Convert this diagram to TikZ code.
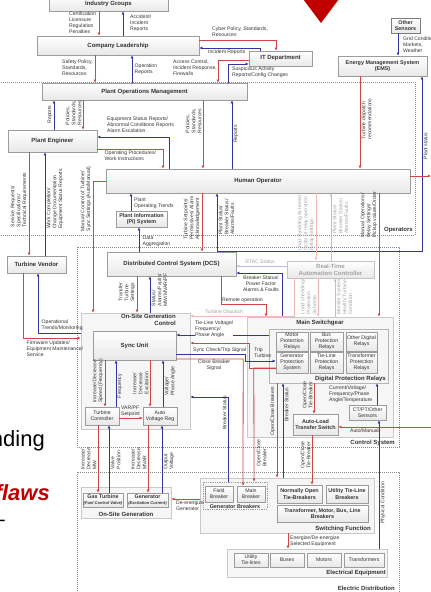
\documentclass[tikz,border=0pt]{standalone}
\usepackage{fontspec}
\setmainfont{Liberation Sans}
\usepackage{tikz}
\usetikzlibrary{arrows.meta}
\definecolor{linered}{HTML}{D04545}
\definecolor{lineblue}{HTML}{3434A4}
\definecolor{palered}{HTML}{F2B8B8}
\definecolor{paleblue}{HTML}{BCBCE8}
\definecolor{edge}{HTML}{9C9C9C}
\definecolor{shade}{HTML}{E8E8E8}
\definecolor{ink}{HTML}{333333}
\definecolor{faint}{HTML}{A3A3A3}
\definecolor{slidered}{HTML}{C00000}
\definecolor{zone}{HTML}{8C8C8C}
\definecolor{panel}{HTML}{F6F6F6}
\newcommand{\lblsize}{\fontsize{5.1}{5.9}\selectfont}
\newcommand{\boxsize}{\fontsize{6}{6.8}\selectfont\bfseries}
\newcommand{\subsize}{\fontsize{5.4}{6.2}\selectfont\bfseries}
\newcommand{\minorsize}{\fontsize{5.2}{6}\selectfont}
\newcommand{\tinysize}{\fontsize{4.1}{5}\selectfont\itshape}

\begin{document}
\begin{tikzpicture}[
  x=1pt, y=-1pt,
  box/.style={draw=edge,top color=white,bottom color=shade,text=ink,font=\boxsize,align=center,inner sep=0pt},
  subbox/.style={box,font=\subsize},
  minor/.style={box,font=\minorsize},
  panel/.style={draw=edge!55,fill=panel,inner sep=0pt},
  zonebox/.style={draw=zone,dash pattern=on 0.8pt off 1.2pt},
  title/.style={font=\boxsize,text=ink,inner sep=0pt},
  rd/.style={draw=linered,line width=0.8pt,-{Latex[length=3.2pt,width=3pt]}},
  bl/.style={draw=lineblue,line width=0.8pt,-{Latex[length=3.2pt,width=3pt]}},
  rdf/.style={rd,draw=palered},
  blf/.style={bl,draw=paleblue},
  lbl/.style={font=\lblsize,text=ink,align=left,inner sep=0pt},
  lblv/.style={lbl,rotate=90},
  dim/.style={text=faint}
]
\useasboundingbox (0,0) rectangle (431,592);
\clip (0,0) rectangle (431,592);

% slide behind the diagram
\node[font=\fontsize{22}{24}\selectfont,anchor=base east,inner sep=0pt] (bgA) at (45,446) {nding};
\node[font=\fontsize{22}{24}\selectfont\bfseries\itshape,text=slidered,anchor=base east,inner sep=0pt] (bgB) at (50,500) {flaws};
\node[font=\fontsize{22}{24}\selectfont,anchor=base east,inner sep=0pt] (bgC) at (5,526) {--};
\fill[slidered] (303,-1) -- (339,-1) -- (321,23) -- cycle;

% zones
\draw[zonebox] (-5,82) -- (415,82) -- (415,235) -- (-5,235);
\draw[zonebox] (77,247) rectangle (399,447);
\draw[zonebox] (77,472) rectangle (399,600);
\node[title,anchor=south east] (opsT) at (413,233) {Operators};
\node[title,anchor=south east] (csT) at (395,446) {Control System};
\node[title,anchor=south east] (edT) at (395,591) {Electric Distribution};

% panels
\node[panel,minimum width=109pt,minimum height=116pt] (osgc) at (135.5,371) {};
\node[title,align=right,anchor=north east] (osgcT) at (176,314) {On-Site Generation\\Control};
\node[panel,minimum width=146pt,minimum height=120pt] (msw) at (320,377) {};
\node[title,anchor=north] (mswT) at (320,319.5) {Main Switchgear};
\node[panel,draw=edge!75,minimum width=119pt,minimum height=54pt] (dpr) at (328.5,356) {};
\node[title,anchor=south east] (dprT) at (386,382) {Digital Protection Relays};
\node[panel,minimum width=90pt,minimum height=31pt] (osg) at (126,502.5) {};
\node[title,anchor=south] (osgT) at (126,517) {On-Site Generation};
\node[panel,minimum width=174pt,minimum height=55pt] (sf) at (287,505.5) {};
\node[title,anchor=south east] (sfT) at (371,532) {Switching Function};
\node[panel,draw=edge,dash pattern=on 0.8pt off 1pt,minimum width=64pt,minimum height=27pt] (gb) at (235,495.5) {};
\node[title,font=\subsize,anchor=south] (gbT) at (235,508.5) {Generator Breakers};
\node[panel,minimum width=160pt,minimum height=28pt] (ee) at (307,563) {};
\node[title,anchor=south east] (eeT) at (386,576) {Electrical Equipment};

% boxes
\node[box,minimum width=119pt,minimum height=15pt] (ind) at (108.5,3.5) {Industry Groups};
\node[box,minimum width=162pt,minimum height=19pt] (cl) at (118,45.5) {Company Leadership};
\node[box,minimum width=63pt,minimum height=15pt] (it) at (280.5,58.5) {IT Department};
\node[box,font=\subsize,minimum width=89pt,minimum height=20pt] (ems) at (382.5,66) {Energy Management System\\(EMS)};
\node[box,font=\subsize,draw=edge!80!black,minimum width=29pt,minimum height=15pt] (oth) at (405.5,25.5) {Other\\Sensors};
\node[box,minimum width=205pt,minimum height=17pt] (pom) at (144.5,91.5) {Plant Operations Management};
\node[box,minimum width=89pt,minimum height=22pt] (pe) at (52.5,141) {Plant Engineer};
\node[box,minimum width=304pt,minimum height=24pt] (ho) at (258,181) {Human Operator};
\node[box,font=\subsize,minimum width=51pt,minimum height=16pt] (pi) at (141.5,219) {Plant Information\\(PI) System};
\node[box,minimum width=59pt,minimum height=17pt] (tv) at (36.5,264.5) {Turbine Vendor};
\node[box,minimum width=129pt,minimum height=24pt] (dcs) at (171.5,264) {Distributed Control System (DCS)};
\node[box,draw=edge!60,text=faint,minimum width=87pt,minimum height=17pt] (rtac) at (330.5,269.5) {Real-Time\\Automation Controller};

\node[box,minimum width=83pt,minimum height=29pt] (sync) at (134.5,345.5) {Sync Unit};
\node[minor,minimum width=34pt,minimum height=18pt] (tc) at (102,416) {Turbine\\Controller};
\node[minor,minimum width=34pt,minimum height=18pt] (avr) at (160,416) {Auto\\Voltage Reg};

\node[minor,minimum width=32pt,minimum height=19pt] (mpr) at (292,341.5) {Motor\\Protection\\Relays};
\node[minor,minimum width=33pt,minimum height=19pt] (bpr) at (326.5,341.5) {Bus\\Protection\\Relays};
\node[minor,minimum width=31pt,minimum height=19pt] (odr) at (361.5,341.5) {Other Digital\\Relays};
\node[minor,minimum width=32pt,minimum height=21pt] (gps) at (292,362.5) {Generator\\Protection\\System};
\node[minor,minimum width=33pt,minimum height=21pt] (tlr) at (326.5,362.5) {Tie-Line\\Protection\\Relays};
\node[minor,minimum width=31pt,minimum height=21pt] (tpr) at (361.5,362.5) {Transformer\\Protection\\Relays};
\node[subbox,minimum width=45pt,minimum height=21pt] (alts) at (315.5,424.5) {Auto-Load\\Transfer Switch};
\node[minor,minimum width=37pt,minimum height=15pt] (ct) at (367.5,412.5) {CT/PT/Other\\Sensors};

\node[subbox,minimum width=40pt,minimum height=14pt] (gt) at (103,500) {Gas Turbine\\[-1pt]{\tinysize(Fuel Control Valve)}};
\node[subbox,minimum width=41pt,minimum height=14pt] (gen) at (147.5,500) {Generator\\[-1pt]{\tinysize(Excitation Current)}};
\node[minor,minimum width=28pt,minimum height=16pt] (fb) at (219,494) {Field\\Breaker};
\node[minor,minimum width=28pt,minimum height=16pt] (mb) at (251,494) {Main\\Breaker};
\node[subbox,minimum width=45pt,minimum height=18pt] (nob) at (299.5,494) {Normally Open\\Tie-Breakers};
\node[subbox,minimum width=42pt,minimum height=18pt] (utb) at (347,494) {Utility Tie-Line\\Breakers};
\node[subbox,minimum width=91pt,minimum height=17pt] (tmb) at (322.5,513.5) {Transformer, Motor, Bus, Line\\Breakers};
\node[minor,minimum width=34pt,minimum height=14pt] (utl) at (251,560) {Utility\\Tie-lines};
\node[minor,minimum width=34pt,minimum height=14pt] (bus) at (287,560) {Buses};
\node[minor,minimum width=34pt,minimum height=14pt] (mot) at (324,560) {Motors};
\node[minor,minimum width=40pt,minimum height=14pt] (trf) at (364,560) {Transformers};

\coordinate (hoOut) at (431,176);
\coordinate (amIn) at (431,427);

% management level
\draw[rd] (ind.south -| 99,0) -- (cl.north -| 99,0);
\node[lbl,anchor=north west] (l1) at (69,12) {Certification\\Licensure\\Regulation\\Penalties};
\draw[bl] (cl.north -| 123,0) -- (ind.south -| 123,0);
\node[lbl,anchor=north west] (l2) at (130,15) {Accident/\\Incident\\Reports};
\draw[rd] (cl.east |- 0,40) -| (it.north -| 276,0);
\node[lbl,anchor=north west] (l3) at (212,26.5) {Cyber Policy, Standards,\\Resources};
\draw[bl] (it.north -| 260,0) |- (cl.east |- 0,48);
\node[lbl,anchor=north west] (l4) at (208,49.5) {Incident Reports};
\draw[rd] (it.west |- 0,60) -| (pom.north -| 218,0);
\node[lbl,anchor=north west] (l5) at (173,60) {Access Control,\\Incident Response,\\Firewalls};
\draw[bl] (pom.north -| 228,0) |- (it.west |- 0,64);
\node[lbl,anchor=north west] (l6) at (232,67) {Suspicious Activity\\Reports/Config Changes};
\draw[rd] (cl.south -| 95,0) -- (pom.north -| 95,0);
\node[lbl,anchor=north west] (l7) at (62,60) {Safety Policy,\\Standards,\\Resources};
\draw[bl] (pom.north -| 132,0) -- (cl.south -| 132,0);
\node[lbl,anchor=north west] (l8) at (134.5,64) {Operation\\Reports};
\draw[bl] (oth.south -| 398,0) -- (ems.north -| 398,0);
\node[lbl,anchor=north west] (l9) at (403,37) {Grid Conditions,\\Markets,\\Weather};

% operators
\draw[bl] (pe.north -| 54,0) -- (pom.south -| 54,0);
\node[lblv,anchor=south] (l10) at (52.5,114.5) {Reports};
\draw[rd] (pom.south -| 83,0) -- (pe.north -| 83,0);
\node[lblv,anchor=south] (l11) at (81.5,113) {Policies,\\Standards,\\Resources};
\draw[bl] (ho.north -| 169,0) |- (pe.east |- 0,137);
\node[lbl,anchor=north west] (l12) at (107,117) {Equipment Status Reports/\\Abnormal Conditions Reports\\Alarm Escalation};
\draw[rd] (pe.east |- 0,149) -| (ho.north -| 163,0);
\node[lbl,anchor=north west] (l13) at (104.5,150.5) {Operating Procedures/\\Work Instructions};
\draw[rd] (pom.south -| 203,0) -- (ho.north -| 203,0);
\node[lblv,anchor=south] (l14) at (201.5,121) {Policies,\\Standards,\\Resources};
\draw[bl] (ho.north -| 232,0) -- (pom.south -| 232,0);
\node[lblv,anchor=north] (l15) at (233.5,134) {Reports};
\draw[rd] (ems.south -| 360,0) -- (ho.north -| 360,0);
\node[lblv,anchor=north] (l16) at (361.5,119) {Turbine dispatch\\recommendations};
\draw[bl] (dcs.north -| 217,0) -| (ems.south -| 422,0);
\node[lblv,anchor=north] (l17) at (423.5,146) {Plant status};
\draw[rd] (ho.east |- hoOut) -- (hoOut);
\draw[rd] (pe.south -| 29,0) -- (tv.north -| 29,0);
\node[lblv,anchor=south] (l18) at (27.5,200) {Service Requests/\\Specifications/\\Technical Requirements};
\draw[bl] (tv.north -| 45,0) -- (pe.south -| 45,0);
\node[lblv,anchor=north] (l19) at (46.5,199) {Work Completion/\\Change Documentation\\Equipment Status Reports};
\draw[rd] (ho.west |- 0,181) -| (osgc.north -| 93,0);
\node[lblv,anchor=south] (l20) at (91.5,199) {Manual Control of Turbine/\\Sync Settings (Auto/Manual)};
\draw[bl] (pi.north -| 131,0) -- (ho.south -| 131,0);
\node[lbl,anchor=north west] (l21) at (134,197.5) {Plant\\Operating Trends};
\draw[bl] (dcs.north -| 139,0) -- (pi.south -| 139,0);
\node[lbl,anchor=north west] (l22) at (142.5,236) {Data\\Aggregation};
\draw[rd] (ho.south -| 202,0) -- (dcs.north -| 202,0);
\node[lblv,anchor=south] (l23) at (200.5,218) {Turbine Setpoints/\\Permissives/ Alarm\\Acknowledgement};
\draw[bl] (dcs.north -| 217,0) -- (ho.south -| 217,0);
\node[lblv,anchor=north] (l24) at (218.5,217) {Plant Status/\\Breaker Status/\\Alarms/Faults};
\draw[rdf] (ho.south -| 316,0) -- (rtac.north -| 316,0);
\node[lblv,dim,anchor=south] (l25) at (314.5,223) {Load-shedding Scheme/\\Order of relay operation\\Relay settings};
\draw[blf] (rtac.north -| 331,0) -- (ho.south -| 331,0);
\node[lblv,dim,anchor=north] (l26) at (332.5,216) {Plant Status/\\Breaker Status/\\Alarms/Faults};
\draw[rd] (ho.south -| 379,0) -- (msw.north -| 379,0);
\node[lblv,anchor=south] (l27) at (377.5,215) {Manual Operations/\\Relay Settings/\\Pickup values/Order};

% control system
\draw[blf] (rtac.west |- 0,266) -- (dcs.east |- 0,266);
\node[lbl,dim,anchor=south] (l28) at (260,264) {RTAC Status};
\draw[bl] (msw.north -| 282,0) |- (dcs.east |- 0,273);
\node[lbl,align=center,anchor=north] (l29) at (261,275.5) {Breaker Status/\\Power Factor\\Alarms \& Faults};
\draw[rd] (dcs.south -| 221,0) -- ++(0,28) -| (msw.north -| 266,0);
\node[lbl,anchor=south west] (l30) at (222,302.5) {Remote operation};
\draw[rdf] (rtac.south -| 294,0) |- (osgc.east |- 0,316);
\node[lbl,dim,anchor=south] (l31) at (224,314.5) {Turbine Dispatch};
\draw[rdf] (rtac.south -| 318,0) -- (msw.north -| 318,0);
\node[lblv,dim,anchor=south] (l32) at (316.5,297) {Load-shedding/\\Protection\\Scheme};
\draw[blf] (msw.north -| 335,0) -- (rtac.south -| 335,0);
\node[lblv,dim,anchor=north] (l33) at (336.5,297) {Monitor System\\Health/ Turbine\\Condition};
\draw[rd] (dcs.south -| 137,0) -- (osgc.north -| 137,0);
\node[lblv,anchor=south] (l34) at (135.5,292) {Transfer\\Turbine\\Settings};
\draw[bl] (osgc.north -| 150,0) -- (dcs.south -| 150,0);
\node[lblv,anchor=north] (l35) at (151.5,290) {Status/\\Alarms/Faults/\\MW/MVAR/PF};
\draw[rd] (tv.south -| 23,0) |- (osgc.west |- 0,338);
\node[lbl,anchor=north west] (l36) at (26.5,341) {Firmware Updates/\\Equipment Maintenance/\\Service};
\draw[bl] (osgc.west |- 0,333) -| (tv.south -| 38,0);
\node[lbl,anchor=south west] (l37) at (41.5,331) {Operational\\Trends/Monitoring};

% generation control
\draw[rd] (sync.south -| 105,0) -- (tc.north -| 105,0);
\node[lblv,anchor=south] (l38) at (103.5,381) {Increase/Decrease\\Speed (Frequency)};
\draw[bl] (tc.north -| 116,0) -- (sync.south -| 116,0);
\node[lblv,anchor=north] (l39) at (117.5,386) {Frequency};
\draw[rd] (sync.south -| 150,0) -- (avr.north -| 150,0);
\node[lblv,anchor=south] (l40) at (148.5,383) {Increase/\\Decrease\\Excitation};
\draw[bl] (avr.north -| 163,0) -- (sync.south -| 163,0);
\node[lblv,anchor=north] (l41) at (164.5,381) {Voltage/\\Phase Angle};
\draw[rd] (tc.east |- 0,418) -- (avr.west |- 0,418);
\node[lbl,anchor=north west] (l42) at (121,406) {VAR/PF\\Setpoint};
\draw[rd] (tc.south -| 98,0) -- (gt.north -| 98,0);
\node[lblv,anchor=south] (l43) at (96.5,459) {Increase/\\Decrease\\MW};
\draw[bl] (gt.north -| 109,0) -- (tc.south -| 109,0);
\node[lblv,anchor=north] (l44) at (110.5,460) {Valve\\Position};
\draw[rd] (avr.south -| 148,0) -- (gen.north -| 148,0);
\node[lblv,anchor=south] (l45) at (146.5,459) {Increase/\\Decrease\\MVAR};
\draw[bl] (gen.north -| 162,0) -- (avr.south -| 162,0);
\node[lblv,anchor=north] (l46) at (163.5,461) {Output\\Voltage};

% sync unit and switchgear
\draw[bl] (dpr.west |- 0,335) -- (sync.east |- 0,335);
\node[lbl,fill=white,anchor=north west] (l47) at (195,321) {Tie-Line Voltage/\\Frequency/\\Phase Angle};
\draw[rd] (gps.west |- 0,368) -- ++(-26,0) |- (osgc.east |- 0,343);
\node[lbl,anchor=north west] (l48) at (254,347.5) {Trip\\Turbine};
\draw[bl] (sync.east |- 0,354) -- ++(69,0) |- (gps.west |- 0,361);
\node[lbl,anchor=south west] (l49) at (193,353) {Sync Check/Trip Signal};
\draw[rd] (sync.east |- 0,359) -- ++(67,0) -- (mb.north -| 243,0);
\node[lbl,align=center,anchor=north] (l50) at (214,360) {Close Breaker\\Signal};
\draw[rd] (gps.west |- 0,368) -- ++(-22,0) -- (gb.north -| 254,0);
\node[lblv,anchor=north] (l51) at (256.5,453) {Open/Close\\Breaker};
\draw[bl] (gb.north -| 228,0) |- (osgc.east |- 0,397);
\node[lblv,anchor=south] (l52) at (226.5,413) {Breaker Status};
\draw[rd] (sf.west |- 0,499) -- (osg.east |- 0,499);
\node[lbl,anchor=north west] (l53) at (176,500.5) {De-energize\\Generator};
\draw[rd] (dpr.south -| 277,0) -- (sf.north -| 277,0);
\node[lblv,anchor=south] (l54) at (275.5,411) {Open/Close Breakers};
\draw[bl] (sf.north -| 283,0) -- (dpr.south -| 283,0);
\node[lblv,anchor=north] (l55) at (284.5,405) {Breaker Status};
\draw[rd] (dpr.south -| 314,0) -- (alts.north -| 314,0);
\node[lblv,anchor=south] (l56) at (312.5,395) {Open/Close\\Tie-Breaker};
\draw[rd] (alts.south -| 312,0) -- (nob.north -| 312,0);
\node[lblv,anchor=south] (l57) at (310.5,455) {Open/Close\\Tie-Breaker};
\draw[bl] (ct.north -| 377,0) -- (dpr.south -| 377,0);
\node[lbl,anchor=north west] (l58) at (329,385.5) {Current/Voltage/\\Frequency/Phase\\Angle/Temperature};
\draw[bl] (ee.north -| 379,0) -- (ct.south -| 379,0);
\node[lblv,anchor=north] (l59) at (380.5,503) {Physical Condition};
\draw[rd] (amIn) -- (alts.east |- amIn);
\node[lbl,anchor=north west] (l60) at (350,429) {Auto/Manual};
\draw[rd] (sf.south -| 288,0) -- (ee.north -| 288,0);
\node[lbl,anchor=north west] (l61) at (290,535.5) {Energize/De-energize\\Selected Equipment};
\end{tikzpicture}
\end{document}
